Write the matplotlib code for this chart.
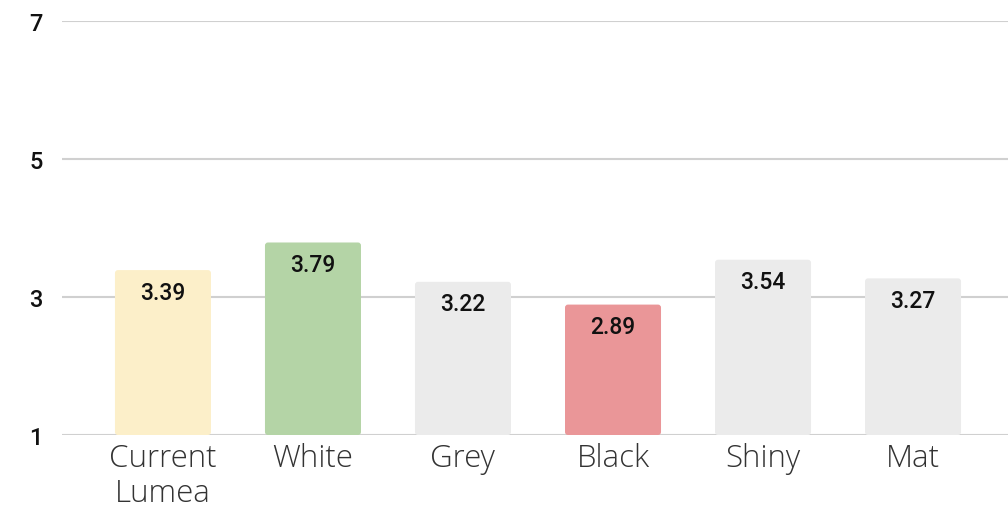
import numpy as np
import matplotlib.pyplot as plt
from matplotlib.patches import FancyBboxPatch

categories = ["Current\nLumea", "White", "Grey", "Black", "Shiny", "Mat"]
scores = [3.39, 3.79, 3.22, 2.89, 3.54, 3.27]
bar_colors = ["#FCEFC9", "#B4D4A6", "#EBEBEB", "#EA9698", "#EBEBEB", "#EBEBEB"]
y_ticks = [1, 3, 5, 7]

W, H = 1008, 510
fig = plt.figure(figsize=(W / 100, H / 100), dpi=100)
ax = fig.add_axes([62 / W, 74 / H, 1 - 62 / W, (488 - 74) / H])

x = np.arange(len(categories))
ax.set_xlim(-0.673, 5.633)
ax.set_ylim(1, 7)

# px per unit, for the rounded corners
px_x = 150.0
px_y = 69.0
bw = 0.64
r = 3 / px_x
for xi, v, c in zip(x, scores, bar_colors):
    box = FancyBboxPatch((xi - bw / 2, 1), bw, v - 1,
                         boxstyle="round,pad=0,rounding_size=%f" % r,
                         mutation_aspect=px_x / px_y,
                         facecolor=c, edgecolor="none", zorder=2)
    ax.add_patch(box)
    ax.text(xi, v - 0.32, "%.2f" % v, ha="center", va="center",
            fontsize=16.5, family="Roboto", fontweight="medium",
            color="#111111", zorder=3)

ax.set_yticks(y_ticks)
ax.set_yticklabels([str(t) for t in y_ticks], fontsize=17, family="Roboto",
                   fontweight="medium", color="#111111")
ax.grid(axis="y", color="#D0D0D0", linewidth=1.5, zorder=1)
ax.set_axisbelow(True)
ax.tick_params(axis="y", length=0, pad=14)

ax.set_xticks(x)
ax.set_xticklabels(categories, fontsize=22.5, family="Open Sans",
                   fontweight="light", color="#333333", linespacing=1.12)
ax.tick_params(axis="x", length=0, pad=5)

for s in ax.spines.values():
    s.set_visible(False)

fig.savefig("out.png", dpi=100)
